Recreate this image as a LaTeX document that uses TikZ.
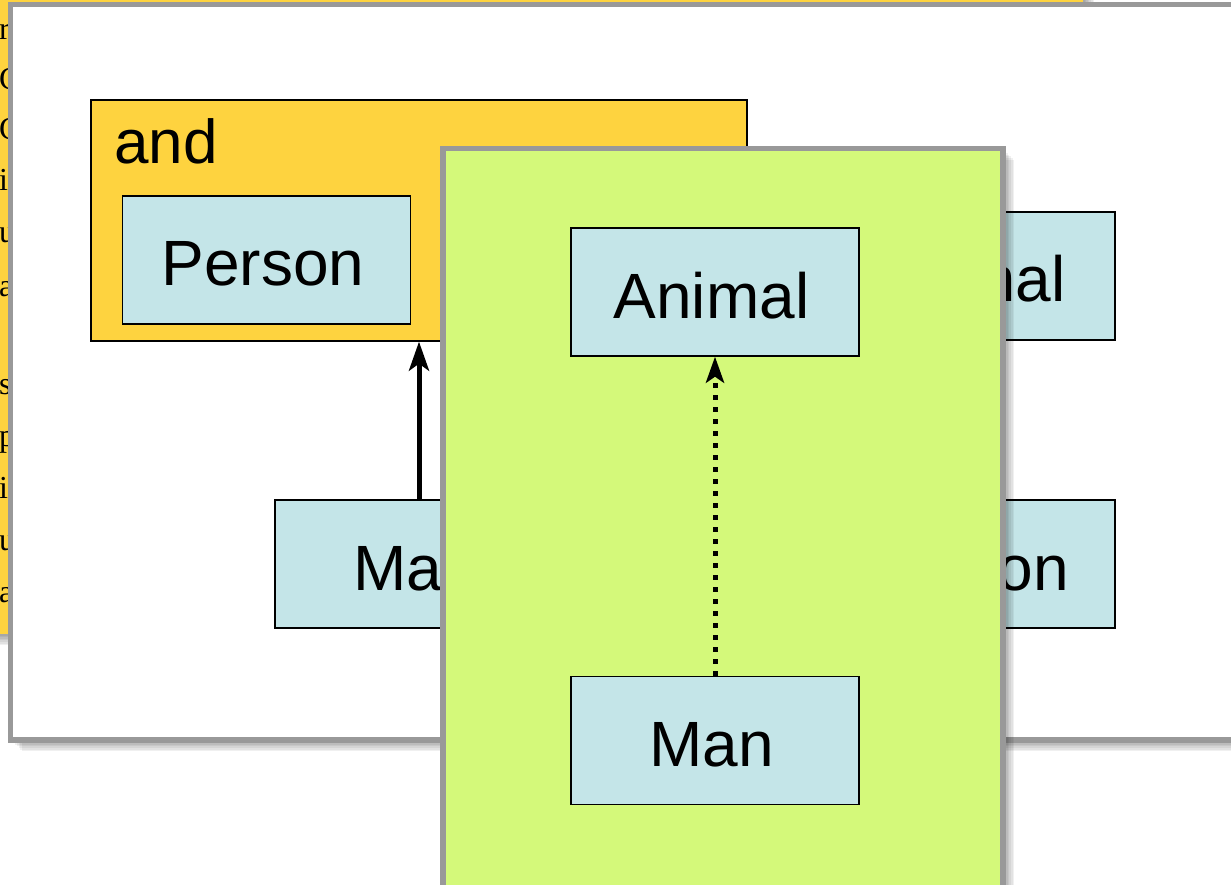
\documentclass[tikz,border=0pt]{standalone}
\usepackage{fontspec}
\setmainfont{Liberation Sans}
\newfontfamily\pageserif{Liberation Serif}
\usetikzlibrary{arrows.meta,calc}

\definecolor{sheetyellow}{HTML}{FED33F}
\definecolor{classblue}{HTML}{C4E5E8}
\definecolor{panelgreen}{HTML}{D4F97A}
\definecolor{framegray}{HTML}{999999}

% class name, set with its baseline a little below the box centre
\newcommand{\classtext}[1]{\raisebox{-26pt}[0pt][0pt]{\kern-7pt #1}}

\tikzset{
  classbox/.style={draw=black, line width=1.3pt, fill=classblue, inner sep=0pt,
    minimum width=288pt, minimum height=128pt,
    font=\fontsize{64}{70}\selectfont},
  groupbox/.style={draw=black, line width=1.3pt, fill=sheetyellow, inner sep=0pt},
  panel/.style={draw=framegray, line width=5.5pt},
  sheettext/.style={anchor=base west, inner sep=0pt, font=\pageserif\fontsize{32}{36}\selectfont},
  isa/.style={line width=5pt, -{Stealth[length=29pt,width=20pt,inset=7pt]}},
  isadotted/.style={line width=5pt, dash pattern=on 5pt off 7pt,
    -{Stealth[length=26pt,width=18pt,inset=6pt]}},
}

% soft drop shadow down and to the right of a rectangle: #1, #2 = opposite corners
\newcommand{\softshadow}[2]{%
  \foreach \d in {1,...,7}{%
    \fill[black, opacity=0.06] ($#1+(\d*1.6,\d*1.6)$) rectangle ($#2+(\d*1.6,\d*1.6)$);
  }%
}

\begin{document}
\begin{tikzpicture}[x=1pt, y=-1pt]
\useasboundingbox (0,0) rectangle (1231,885);
\clip (0,0) rectangle (1231,885);

% ---------- back sheet ----------
\softshadow{(-20,-20)}{(1083,634)}
\fill[sheetyellow] (-20,-20) rectangle (1083,634);
\foreach \ch/\yy in {r/40, C/90, C/140, i/191, u/243, a/296, s/394, p/446, i/498, u/550, a/602}{
  \node[sheettext] (ch\yy) at (-1,\yy) {\ch};
}

% ---------- middle panel ----------
\softshadow{(10.5,4.5)}{(1260,740)}
\filldraw[panel, fill=white] (10.5,4.5) rectangle (1260,740);

\node[groupbox, minimum width=656pt, minimum height=241pt] (andbox) at (419,220.5) {};
\node[anchor=base west, inner sep=0pt, font=\fontsize{62}{70}\selectfont] (andlabel) at (114,164) {and};
\node[classbox] (personA) at (266.5,260) {\classtext{Person}};
\node[classbox] (animalB) at (971,276) {\classtext{Animal}};
\node[classbox] (manB) at (419,564) {\classtext{Man}};
\node[classbox] (personB) at (971,564) {\classtext{Person}};
\draw[isa] (manB.north) -- (manB.north |- andbox.south);

% ---------- front panel ----------
\softshadow{(443,148.5)}{(1003,900)}
\filldraw[panel, fill=panelgreen] (443,148.5) rectangle (1003,900);

\node[classbox] (animalC) at (715,292) {\classtext{Animal}};
\node[classbox] (manC) at (715,740.5) {\classtext{Man}};
\draw[isadotted] (manC.north) -- (animalC.south);

\end{tikzpicture}
\end{document}
